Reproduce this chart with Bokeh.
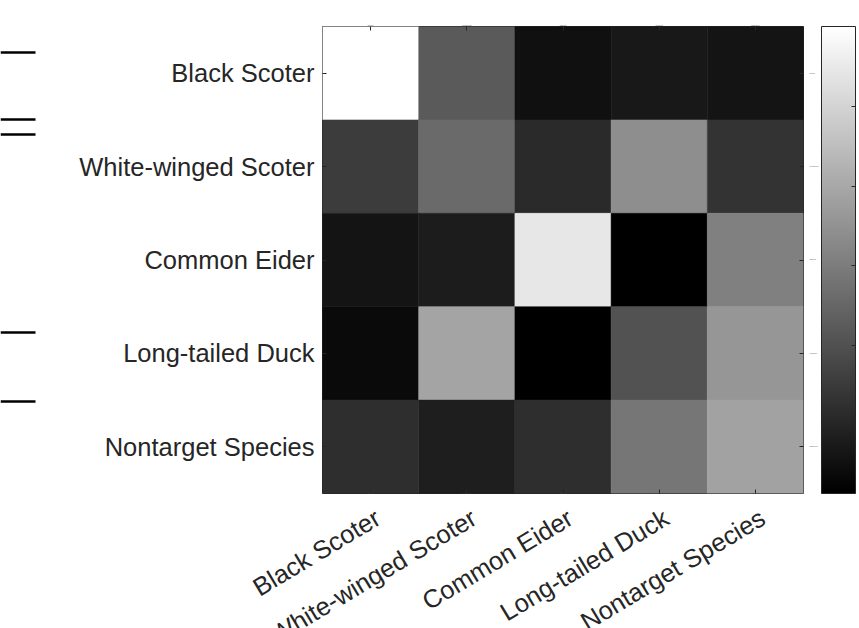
import math
from bokeh.plotting import figure
from bokeh.models import (FactorRange, Range1d, LinearColorMapper, ColorBar, FixedTicker,
                          CategoricalAxis, ColumnDataSource)
from bokeh.core.properties import value
from bokeh.layouts import row, column
from bokeh.palettes import gray
from bokeh.embed import file_html
from bokeh.resources import INLINE

# ---- data ----
species = ["Black Scoter", "White-winged Scoter", "Common Eider", "Long-tailed Duck", "Nontarget Species"]
row_black_scoter = [0.600, 0.221, 0.052, 0.070, 0.061]
row_white_winged = [0.153, 0.258, 0.111, 0.341, 0.132]
row_common_eider = [0.061, 0.079, 0.543, 0.015, 0.309]
row_long_tailed = [0.038, 0.391, 0.015, 0.203, 0.359]
row_nontarget = [0.121, 0.084, 0.121, 0.286, 0.387]
matrix_rows = [row_black_scoter, row_white_winged, row_common_eider, row_long_tailed, row_nontarget]
colorbar_ticks = [0.2, 0.3, 0.4, 0.5]
# decorative fragments at the far left edge (page y positions)
left_fragment_y = [52, 119, 134, 332, 401]

FONT = "Liberation Sans"
TXT = "#262626"
FS = "25.5px"

# ---- layout constants (pixels) ----
W_TOTAL, H_TOTAL = 859, 628
W0 = 40                       # left strip
FRAME_L, FRAME_R = 322, 803   # page x of heatmap frame
FRAME_T, FRAME_H = 26, 467
BOTTOM = 4
H_MAIN = FRAME_T + FRAME_H + BOTTOM
W_MAIN = W_TOTAL - W0

xs, ys, vs = [], [], []
for rname, vals in zip(species, matrix_rows):
    for cname, v in zip(species, vals):
        xs.append(cname)
        ys.append(rname)
        vs.append(v)
src = ColumnDataSource(dict(x=xs, y=ys, v=vs))

mapper = LinearColorMapper(palette=gray(256), low=min(vs), high=max(vs))

p = figure(width=W_MAIN, height=H_MAIN,
           x_range=FactorRange(*species), y_range=FactorRange(*reversed(species)),
           output_backend="svg", toolbar_location=None,
           min_border_left=FRAME_L - W0, min_border_right=W_TOTAL - FRAME_R,
           min_border_top=FRAME_T, min_border_bottom=BOTTOM)
p.rect(x="x", y="y", width=1, height=1, source=src,
       fill_color={"field": "v", "transform": mapper},
       line_color={"field": "v", "transform": mapper}, line_width=0.5)

p.xgrid.visible = False
p.ygrid.visible = False
p.outline_line_color = TXT
p.outline_line_width = 1

top_ax = CategoricalAxis()
right_ax = CategoricalAxis()
p.add_layout(top_ax, "above")
p.add_layout(right_ax, "right")
bottom_ax = p.below[0]
left_ax = p.left[0]

blank = {s: "" for s in species}
for ax in [bottom_ax, left_ax, top_ax, right_ax]:
    ax.axis_line_color = None
    ax.major_tick_in = 4
    ax.major_tick_out = 0
    ax.major_tick_line_color = TXT
    ax.minor_tick_line_color = None

for ax in [bottom_ax, top_ax, right_ax]:
    ax.major_label_overrides = blank
    ax.major_label_text_font_size = "1px"
    ax.major_label_standoff = 0
right_ax.major_label_standoff = 6

left_ax.major_label_text_font = FONT
left_ax.major_label_text_font_size = FS
left_ax.major_label_text_color = TXT
left_ax.major_label_standoff = 8

cb = ColorBar(color_mapper=mapper, ticker=FixedTicker(ticks=colorbar_ticks),
              width=34, height=FRAME_H, major_tick_in=4, major_tick_out=0,
              major_tick_line_color=TXT,
              major_label_overrides={t: "" for t in colorbar_ticks},
              major_label_text_font_size="1px",
              bar_line_color=TXT, padding=0, margin=0, label_standoff=0,
              border_line_color=None, background_fill_alpha=0)
p.add_layout(cb, "right")

# ---- rotated x tick labels in a strip below the heatmap ----
cell_w = (FRAME_R - FRAME_L) / len(species)
x_start = (W0 - FRAME_L) / cell_w
x_end = (W_TOTAL - FRAME_L) / cell_w
p_lab = figure(width=W_MAIN, height=H_TOTAL - H_MAIN,
               x_range=Range1d(x_start, x_end), y_range=Range1d(0, 1),
               output_backend="svg", toolbar_location=None, min_border=0,
               x_axis_type=None, y_axis_type=None)
p_lab.outline_line_color = None
p_lab.xgrid.visible = False
p_lab.ygrid.visible = False
lab_src = ColumnDataSource(dict(x=[i + 0.5 for i in range(len(species))],
                                y=[1] * len(species), text=species))
p_lab.text(x="x", y="y", text="text", source=lab_src, angle=math.radians(31),
           text_align="right", text_baseline="top", x_offset=0, y_offset=6,
           text_font=value(FONT), text_font_size=value(FS), text_color=TXT)

# ---- left edge fragments ----
p0 = figure(width=W0, height=H_TOTAL, x_range=Range1d(0, W0), y_range=Range1d(H_TOTAL, 0),
            output_backend="svg", toolbar_location=None, min_border=0,
            x_axis_type=None, y_axis_type=None)
p0.outline_line_color = None
p0.xgrid.visible = False
p0.ygrid.visible = False
p0.segment(x0=0, x1=35, y0=left_fragment_y, y1=left_fragment_y, line_color="black", line_width=2.5)

layout = row(p0, column(p, row(p_lab)))
open("out.html", "w").write(file_html(layout, INLINE))
